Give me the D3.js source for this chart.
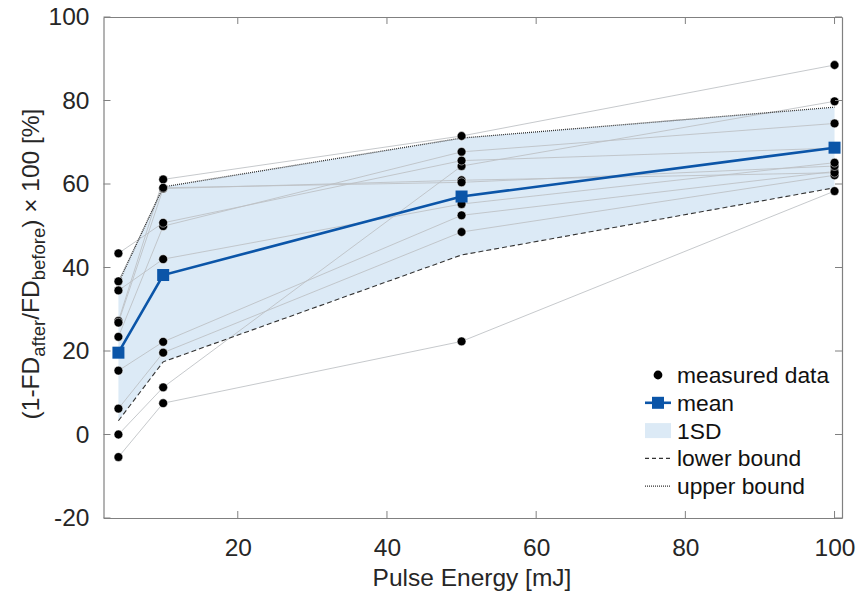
<!DOCTYPE html>
<html>
<head>
<meta charset="utf-8">
<script src="https://cdn.jsdelivr.net/npm/d3@7/dist/d3.min.js"></script>
<style>
body{margin:0;background:#fff;}
svg text{font-family:"Liberation Sans",Arial,Helvetica,sans-serif;}
</style>
</head>
<body>
<svg id="chart" width="858" height="605"></svg>
<script>
// ---- data ----
const energies = [4, 10, 50, 100];
// each sample measured at the four pulse energies
const sampleA = [-5.4, 7.5, 22.3, 58.3];
const sampleB = [0.0, 11.3, 64.3, 79.8];
const sampleC = [6.2, 19.6, 48.5, 62.1];
const sampleD = [15.3, 22.2, 52.5, 63.0];
const sampleE = [23.4, 49.9, 67.7, 74.5];
const sampleF = [27.2, 61.1, 71.5, 88.5];
const sampleG = [26.8, 58.9, 60.9, 62.7];
const sampleH = [36.7, 59.1, 60.4, 64.3];
const sampleI = [43.4, 50.7, 65.6, 68.6];
const sampleJ = [34.5, 42.0, 55.2, 65.1];
const meanValues = [19.6, 38.2, 57.0, 68.7];
const lowerBound = [3.3, 17.4, 43.0, 59.1];
const upperBound = [36.3, 59.3, 71.0, 78.4];
const xTicks = [20, 40, 60, 80, 100];
const yTicks = [-20, 0, 20, 40, 60, 80, 100];
const legendLabels = ["measured data", "mean", "1SD", "lower bound", "upper bound"];

const samples = [sampleA, sampleB, sampleC, sampleD, sampleE, sampleF, sampleG, sampleH, sampleI, sampleJ];

// ---- layout ----
const L = 103.5, R = 842, T = 17, B = 518;
const svg = d3.select("#chart");
const x = d3.scaleLinear().domain([2, 101]).range([L, R]);
const y = d3.scaleLinear().domain([-20, 100]).range([B, T]);

const axisColor = "#808080";
const textColor = "#262626";
const fontSize = 24.5;

// band
const area = d3.area().x((d, i) => x(energies[i])).y0((d, i) => y(lowerBound[i])).y1(d => y(d));
svg.append("path").datum(upperBound).attr("d", area).attr("fill", "#dceaf6").attr("stroke", "none");

// individual sample lines
const line = d3.line().x((d, i) => x(energies[i])).y(d => y(d));
svg.append("g").selectAll("path").data(samples).join("path")
  .attr("d", line).attr("fill", "none").attr("stroke", "#bcbfc3").attr("stroke-width", 1).attr("opacity", 0.85);

// bounds
svg.append("path").datum(lowerBound).attr("d", line).attr("fill", "none")
  .attr("stroke", "#333").attr("stroke-width", 1.1).attr("stroke-dasharray", "5,3");
svg.append("path").datum(upperBound).attr("d", line).attr("fill", "none")
  .attr("stroke", "#333").attr("stroke-width", 1.3).attr("stroke-dasharray", "1,1");

// measured points
const pts = [];
samples.forEach(s => s.forEach((v, i) => pts.push([energies[i], v])));
svg.append("g").selectAll("circle").data(pts).join("circle")
  .attr("cx", d => x(d[0])).attr("cy", d => y(d[1])).attr("r", 4.4)
  .attr("fill", "#000").attr("stroke", "#fff").attr("stroke-width", 0.5);

// mean
const meanColor = "#0b55a8";
svg.append("path").datum(meanValues).attr("d", line).attr("fill", "none")
  .attr("stroke", meanColor).attr("stroke-width", 2.6);
svg.append("g").selectAll("rect").data(meanValues).join("rect")
  .attr("x", (d, i) => x(energies[i]) - 6).attr("y", d => y(d) - 6)
  .attr("width", 12).attr("height", 12).attr("fill", meanColor);

// axes box
const fmt = d => String(d);
const gx = svg.append("g").attr("transform", `translate(0,${B})`)
  .call(d3.axisBottom(x).tickValues(xTicks).tickFormat(fmt).tickSize(0).tickPadding(21));
const gxTop = svg.append("g").attr("transform", `translate(0,${T})`)
  .call(d3.axisTop(x).tickValues(xTicks).tickSize(0).tickFormat(""));
const gy = svg.append("g").attr("transform", `translate(${L},0)`)
  .call(d3.axisLeft(y).tickValues(yTicks).tickFormat(fmt).tickSize(0).tickPadding(14));
const gyR = svg.append("g").attr("transform", `translate(${R},0)`)
  .call(d3.axisRight(y).tickValues(yTicks).tickSize(0).tickFormat(""));
[gx, gxTop, gy, gyR].forEach(g => {
  g.select(".domain").attr("stroke", axisColor).attr("stroke-width", 1.2);
  g.selectAll("text").attr("font-size", fontSize).attr("fill", textColor)
    .attr("font-family", '"Liberation Sans",Arial,sans-serif');
});
// inward ticks
const tl = 7;
svg.append("g").selectAll("line").data(xTicks).join("line")
  .attr("x1", d => x(d)).attr("x2", d => x(d)).attr("y1", B).attr("y2", B - tl).attr("stroke", axisColor);
svg.append("g").selectAll("line").data(xTicks).join("line")
  .attr("x1", d => x(d)).attr("x2", d => x(d)).attr("y1", T).attr("y2", T + tl).attr("stroke", axisColor);
svg.append("g").selectAll("line").data(yTicks).join("line")
  .attr("x1", L).attr("x2", L + tl).attr("y1", d => y(d)).attr("y2", d => y(d)).attr("stroke", axisColor);
svg.append("g").selectAll("line").data(yTicks).join("line")
  .attr("x1", R).attr("x2", R - tl).attr("y1", d => y(d)).attr("y2", d => y(d)).attr("stroke", axisColor);

// axis labels
svg.append("text").attr("x", 472).attr("y", 586).attr("text-anchor", "middle")
  .attr("font-size", fontSize).attr("fill", textColor).text("Pulse Energy [mJ]");

const yl = svg.append("text").attr("transform", "translate(39,264) rotate(-90)")
  .attr("text-anchor", "middle").attr("font-size", fontSize).attr("fill", textColor);
yl.append("tspan").text("(1-FD");
yl.append("tspan").attr("font-size", 18.5).attr("dy", 6).text("after");
yl.append("tspan").attr("dy", -6).text("/FD");
yl.append("tspan").attr("font-size", 18.5).attr("dy", 6).text("before");
yl.append("tspan").attr("dy", -6).text(") \u00d7 100 [%]");

// legend
const lgX = 645, lgW = 26, txtX = 677, lgY0 = 375, lgStep = 27.8;
const lg = svg.append("g");
legendLabels.forEach((lab, i) => {
  const cy = lgY0 + i * lgStep;
  lg.append("text").attr("x", txtX).attr("y", cy + 8).attr("font-size", 22.8).attr("fill", "#111").text(lab);
  if (i === 0) {
    lg.append("circle").attr("cx", lgX + lgW / 2).attr("cy", cy).attr("r", 4.4).attr("fill", "#000");
  } else if (i === 1) {
    lg.append("line").attr("x1", lgX).attr("x2", lgX + lgW).attr("y1", cy).attr("y2", cy)
      .attr("stroke", meanColor).attr("stroke-width", 2.6);
    lg.append("rect").attr("x", lgX + lgW / 2 - 6).attr("y", cy - 6).attr("width", 12).attr("height", 12).attr("fill", meanColor);
  } else if (i === 2) {
    lg.append("rect").attr("x", lgX).attr("y", cy - 7.5).attr("width", lgW).attr("height", 15).attr("fill", "#dceaf6");
  } else if (i === 3) {
    lg.append("line").attr("x1", lgX).attr("x2", lgX + lgW).attr("y1", cy).attr("y2", cy)
      .attr("stroke", "#333").attr("stroke-width", 1.1).attr("stroke-dasharray", "4,3");
  } else {
    lg.append("line").attr("x1", lgX).attr("x2", lgX + lgW).attr("y1", cy).attr("y2", cy)
      .attr("stroke", "#333").attr("stroke-width", 1.3).attr("stroke-dasharray", "1,1");
  }
});
</script>
</body>
</html>
